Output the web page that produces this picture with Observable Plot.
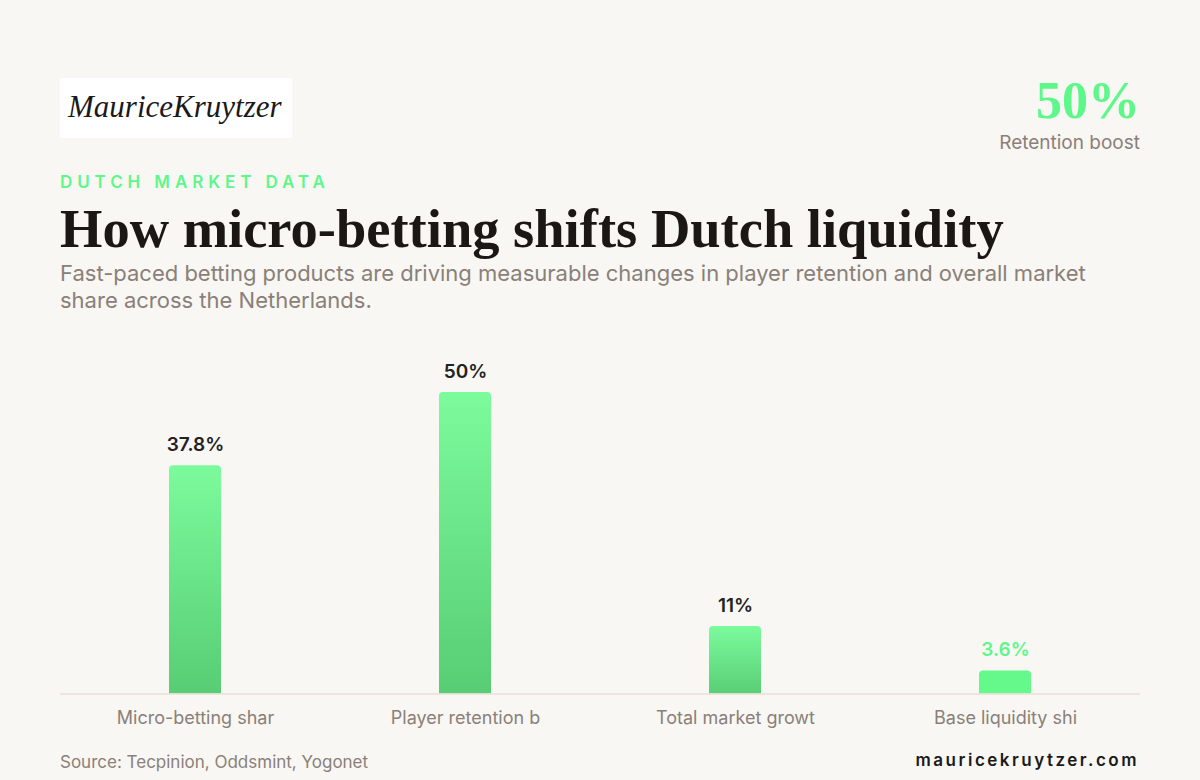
<!DOCTYPE html>
<html>
<head>
<meta charset="utf-8">
<script src="https://cdn.jsdelivr.net/npm/d3@7"></script>
<script src="https://cdn.jsdelivr.net/npm/@observablehq/plot@0.6"></script>
<style>
  html, body { margin: 0; padding: 0; background: #f8f7f4; }
  body { width: 1200px; height: 780px; position: relative; overflow: hidden; font-family: Inter, "Noto Sans", sans-serif; }
  .abs { position: absolute; }
  #logo { left: 60px; top: 78px; width: 232px; height: 60px; background: #ffffff; }
  #logo span { position: absolute; left: 8px; top: 11px; font-family: "Liberation Serif", "DejaVu Serif", serif; font-style: italic; font-size: 31px; color: #1a1a1a; }
  #stat { right: 60px; top: 72px; text-align: right; }
  #stat .big { font-family: "Liberation Serif", "DejaVu Serif", serif; font-weight: 700; font-size: 52px; line-height: 58px; color: #5ef78a; }
  #stat .small { font-size: 19px; color: #8a8078; line-height: 22px; margin-top: 2px; }
  #eyebrow { left: 60px; top: 172px; font-size: 17px; font-weight: 600; letter-spacing: 4.9px; color: #5ef78a; }
  #title { left: 60px; top: 194px; font-family: "Liberation Serif", "DejaVu Serif", serif; font-weight: 700; font-size: 54.5px; line-height: 70px; color: #1a1714; white-space: nowrap; }
  #subtitle { left: 60px; top: 260px; width: 1085px; font-size: 22px; line-height: 27px; color: #8a8078; }
  #chart { left: 0; top: 330px; }
  #source { left: 60px; top: 752px; font-size: 17px; color: #8a8078; }
  #site { right: 61px; top: 750px; font-size: 17px; font-weight: 600; letter-spacing: 2.5px; color: #1a1a1a; }
</style>
</head>
<body>
<svg width="0" height="0" style="position:absolute">
  <defs>
    <linearGradient id="barGrad" x1="0" y1="0" x2="0" y2="1">
      <stop offset="0%" stop-color="#7cfb9c"></stop>
      <stop offset="100%" stop-color="#57cc74"></stop>
    </linearGradient>
  </defs>
</svg>
<div id="logo" class="abs"><span>MauriceKruytzer</span></div>
<div id="stat" class="abs"><div class="big"></div><div class="small"></div></div>
<div id="eyebrow" class="abs">DUTCH MARKET DATA</div>
<div id="title" class="abs">How micro-betting shifts Dutch liquidity</div>
<div id="subtitle" class="abs">Fast-paced betting products are driving measurable changes in player retention and overall market share across the Netherlands.</div>
<div id="chart" class="abs"></div>
<div id="source" class="abs">Source: Tecpinion, Oddsmint, Yogonet</div>
<div id="site" class="abs">mauricekruytzer.com</div>
<script>
// ---- data ----
const categories = ["Micro-betting shar", "Player retention b", "Total market growt", "Base liquidity shi"];
const values = [37.8, 50, 11, 3.6];
const valueLabels = ["37.8%", "50%", "11%", "3.6%"];
const highlighted = [false, false, false, true];
const statValue = "50%";
const statLabel = "Retention boost";

document.querySelector("#stat .big").textContent = statValue;
document.querySelector("#stat .small").textContent = statLabel;

const data = categories.map((c, i) => ({category: c, value: values[i], label: valueLabels[i], hi: highlighted[i]}));
const bg = "#f8f7f4";

const chart = Plot.plot({
  width: 1200,
  height: 400,
  marginLeft: 60,
  marginRight: 60,
  marginTop: 62,
  marginBottom: 38,
  style: {background: "transparent", fontFamily: "Inter, sans-serif"},
  x: {domain: categories, paddingInner: 0.807, paddingOuter: 0.4035, label: null},
  y: {domain: [0, 50], axis: null},
  marks: [
    Plot.barY(data.filter(d => !d.hi), {x: "category", y: "value", fill: "url(#barGrad)", rx: 4, insetBottom: -6}),
    Plot.barY(data.filter(d => d.hi), {x: "category", y: "value", fill: "#64f98a", rx: 4, insetBottom: -6}),
    Plot.ruleY([0], {stroke: bg, strokeWidth: 12, dy: 7}),
    Plot.ruleY([0], {stroke: "#e8e0d6", strokeWidth: 1.5, dy: 1.5}),
    Plot.text(data, {x: "category", y: "value", text: "label", dy: -21, lineAnchor: "middle", fontSize: 19, fontWeight: 600,
      fill: d => d.hi ? "#5ef78a" : "#222222"}),
    Plot.axisX({tickSize: 0, tickPadding: 19, fontSize: 18, color: "#8a8078", label: null})
  ]
});
document.getElementById("chart").appendChild(chart);
</script>
</body>
</html>
